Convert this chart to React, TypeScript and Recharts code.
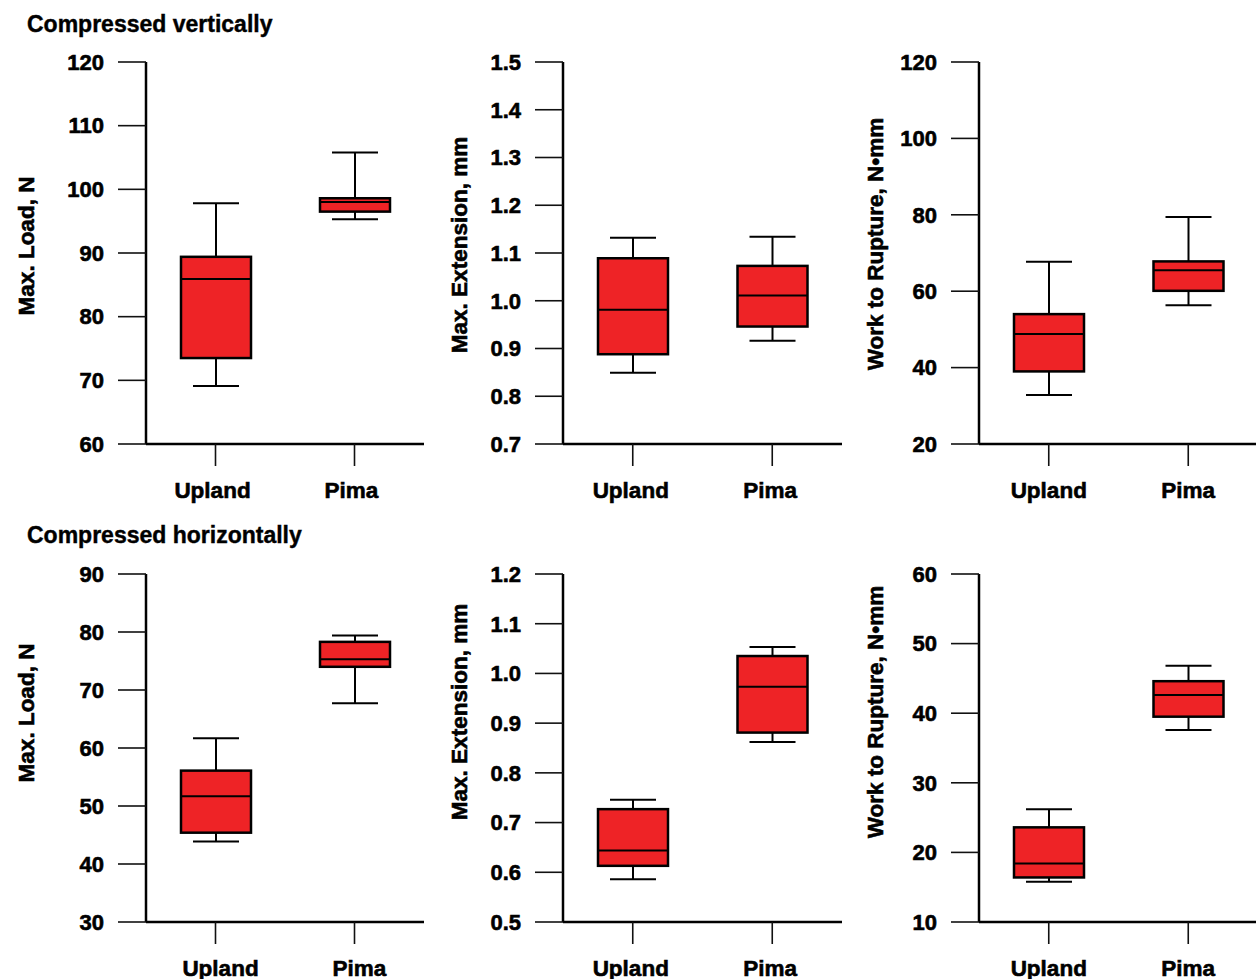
import React from 'react';
import { ComposedChart, Bar, XAxis, YAxis } from 'recharts';

// box stats per panel: [whiskerLow, q1, median, q3, whiskerHigh]
const categories = ['Upland', 'Pima'];

const loadVertical = [
  [69.1, 73.5, 85.9, 89.4, 97.8],
  [95.3, 96.5, 98.0, 98.6, 105.8],
];
const extVertical = [
  [0.849, 0.888, 0.981, 1.089, 1.132],
  [0.916, 0.946, 1.011, 1.073, 1.134],
];
const workVertical = [
  [32.8, 39.0, 48.8, 54.0, 67.7],
  [56.3, 60.1, 65.5, 67.8, 79.4],
];
const loadHorizontal = [
  [43.9, 45.4, 51.7, 56.1, 61.7],
  [67.7, 74.0, 75.3, 78.3, 79.4],
];
const extHorizontal = [
  [0.586, 0.613, 0.644, 0.727, 0.746],
  [0.862, 0.881, 0.973, 1.035, 1.053],
];
const workHorizontal = [
  [15.8, 16.4, 18.4, 23.6, 26.2],
  [37.6, 39.5, 42.6, 44.6, 46.8],
];

const loadVTicks = [60, 70, 80, 90, 100, 110, 120];
const extVTicks = [0.7, 0.8, 0.9, 1.0, 1.1, 1.2, 1.3, 1.4, 1.5];
const workVTicks = [20, 40, 60, 80, 100, 120];
const loadHTicks = [30, 40, 50, 60, 70, 80, 90];
const extHTicks = [0.5, 0.6, 0.7, 0.8, 0.9, 1.0, 1.1, 1.2];
const workHTicks = [10, 20, 30, 40, 50, 60];

const FONT = '"Liberation Sans", Arial, Helvetica, sans-serif';
const RED = '#ee2326';

const toRows = (stats: number[][]) =>
  categories.map((name, i) => {
    const [lo, q1, med, q3, hi] = stats[i];
    return { name, lo, q1, med, q3, hi, range: [lo, hi] };
  });

const BoxShape = (props: any) => {
  const { x, y, width, height, payload } = props;
  if (!payload) return null;
  const { lo, q1, med, q3, hi } = payload;
  const ppu = height / (hi - lo);
  const py = (v: number) => y + (hi - v) * ppu;
  const cx = x + width / 2;
  const cap = 23;
  return (
    <g>
      <line x1={cx} y1={py(hi)} x2={cx} y2={py(lo)} stroke="#000" strokeWidth={2} />
      <line x1={cx - cap} y1={py(hi)} x2={cx + cap} y2={py(hi)} stroke="#000" strokeWidth={2} />
      <line x1={cx - cap} y1={py(lo)} x2={cx + cap} y2={py(lo)} stroke="#000" strokeWidth={2} />
      <rect x={x} y={py(q3)} width={width} height={py(q1) - py(q3)} fill={RED} stroke="#000" strokeWidth={2.5} />
      <line x1={x} y1={py(med)} x2={x + width} y2={py(med)} stroke="#000" strokeWidth={2} />
    </g>
  );
};

const YTitle = (props: any) => {
  const { viewBox, value, cx, shift } = props;
  if (!viewBox) return null;
  const x = viewBox.x + cx;
  const y = viewBox.y + viewBox.height / 2 + shift;
  return (
    <text
      x={x}
      y={y}
      transform={`rotate(-90 ${x} ${y})`}
      textAnchor="middle"
      dominantBaseline="central"
      fill="#000"
      stroke="#000"
      strokeWidth={0.6}
      fontSize={22.5}
      fontWeight="bold"
      fontFamily={FONT}
    >
      {value}
    </text>
  );
};

const tickFont = {
  fill: '#000',
  stroke: '#000',
  strokeWidth: 0.6,
  fontSize: 22,
  fontWeight: 'bold',
  fontFamily: FONT,
};

interface PanelProps {
  left: number;
  top: number;
  width: number;
  height: number;
  axisW: number;
  right: number;
  mTop: number;
  mBottom: number;
  stats: number[][];
  ticks: number[];
  decimals: number;
  title: string;
  titleX: number;
  titleShift: number;
  labelDx: number;
}

const Panel = (p: PanelProps) => {
  const data = toRows(p.stats);
  return (
    <div style={{ position: 'absolute', left: p.left, top: p.top }}>
      <ComposedChart
        width={p.width}
        height={p.height}
        data={data}
        margin={{ top: p.mTop, right: p.right, bottom: p.mBottom, left: 0 }}
      >
        <XAxis
          dataKey="name"
          height={50}
          tickSize={22}
          tickMargin={16}
          axisLine={{ stroke: '#000', strokeWidth: 2.5 }}
          tickLine={{ stroke: '#111', strokeWidth: 1.6 }}
          tick={{ ...tickFont, fontSize: 22.5, dx: p.labelDx }}
          interval={0}
        />
        <YAxis
          type="number"
          width={p.axisW}
          domain={[p.ticks[0], p.ticks[p.ticks.length - 1]]}
          ticks={p.ticks}
          interval={0}
          tickSize={28}
          tickMargin={14}
          tickFormatter={(v: number) => v.toFixed(p.decimals)}
          axisLine={{ stroke: '#000', strokeWidth: 2.5 }}
          tickLine={{ stroke: '#111', strokeWidth: 1.6 }}
          tick={tickFont}
          label={<YTitle value={p.title} cx={p.titleX} shift={p.titleShift} />}
        />
        <Bar dataKey="range" barSize={70} shape={<BoxShape />} isAnimationActive={false} />
      </ComposedChart>
    </div>
  );
};

const titleStyle: React.CSSProperties = {
  position: 'absolute',
  left: 27,
  fontFamily: FONT,
  fontWeight: 'bold',
  fontSize: 23,
  lineHeight: '22px',
  color: '#000',
  whiteSpace: 'nowrap',
  WebkitTextStroke: '0.4px #000',
};

export default function App() {
  return (
    <div
      style={{
        position: 'absolute',
        left: 0,
        top: 0,
        width: 1256,
        height: 979,
        overflow: 'hidden',
        background: '#fff',
      }}
    >
      <div style={{ ...titleStyle, top: 13 }}>Compressed vertically</div>
      <div style={{ ...titleStyle, top: 524 }}>Compressed horizontally</div>

      <Panel left={0} top={40} width={430} height={470} axisW={146} right={6} mTop={22} mBottom={16} labelDx={-3}
        stats={loadVertical} ticks={loadVTicks} decimals={0} title="Max. Load, N" titleX={26} titleShift={-7} />
      <Panel left={430} top={40} width={420} height={470} axisW={133} right={8} mTop={22} mBottom={16} labelDx={-2}
        stats={extVertical} ticks={extVTicks} decimals={1} title="Max. Extension, mm" titleX={29} titleShift={-8} />
      <Panel left={850} top={40} width={410} height={470} axisW={129} right={2} mTop={22} mBottom={16} labelDx={0}
        stats={workVertical} ticks={workVTicks} decimals={0} title="Work to Rupture, N•mm" titleX={25} titleShift={-9} />

      <Panel left={0} top={552} width={430} height={440} axisW={146} right={6} mTop={22} mBottom={20} labelDx={5}
        stats={loadHorizontal} ticks={loadHTicks} decimals={0} title="Max. Load, N" titleX={26} titleShift={-35} />
      <Panel left={430} top={552} width={420} height={440} axisW={133} right={8} mTop={22} mBottom={20} labelDx={-2}
        stats={extHorizontal} ticks={extHTicks} decimals={1} title="Max. Extension, mm" titleX={29} titleShift={-36} />
      <Panel left={850} top={552} width={410} height={440} axisW={129} right={2} mTop={22} mBottom={20} labelDx={0}
        stats={workHorizontal} ticks={workHTicks} decimals={0} title="Work to Rupture, N•mm" titleX={25} titleShift={-36} />
    </div>
  );
}
